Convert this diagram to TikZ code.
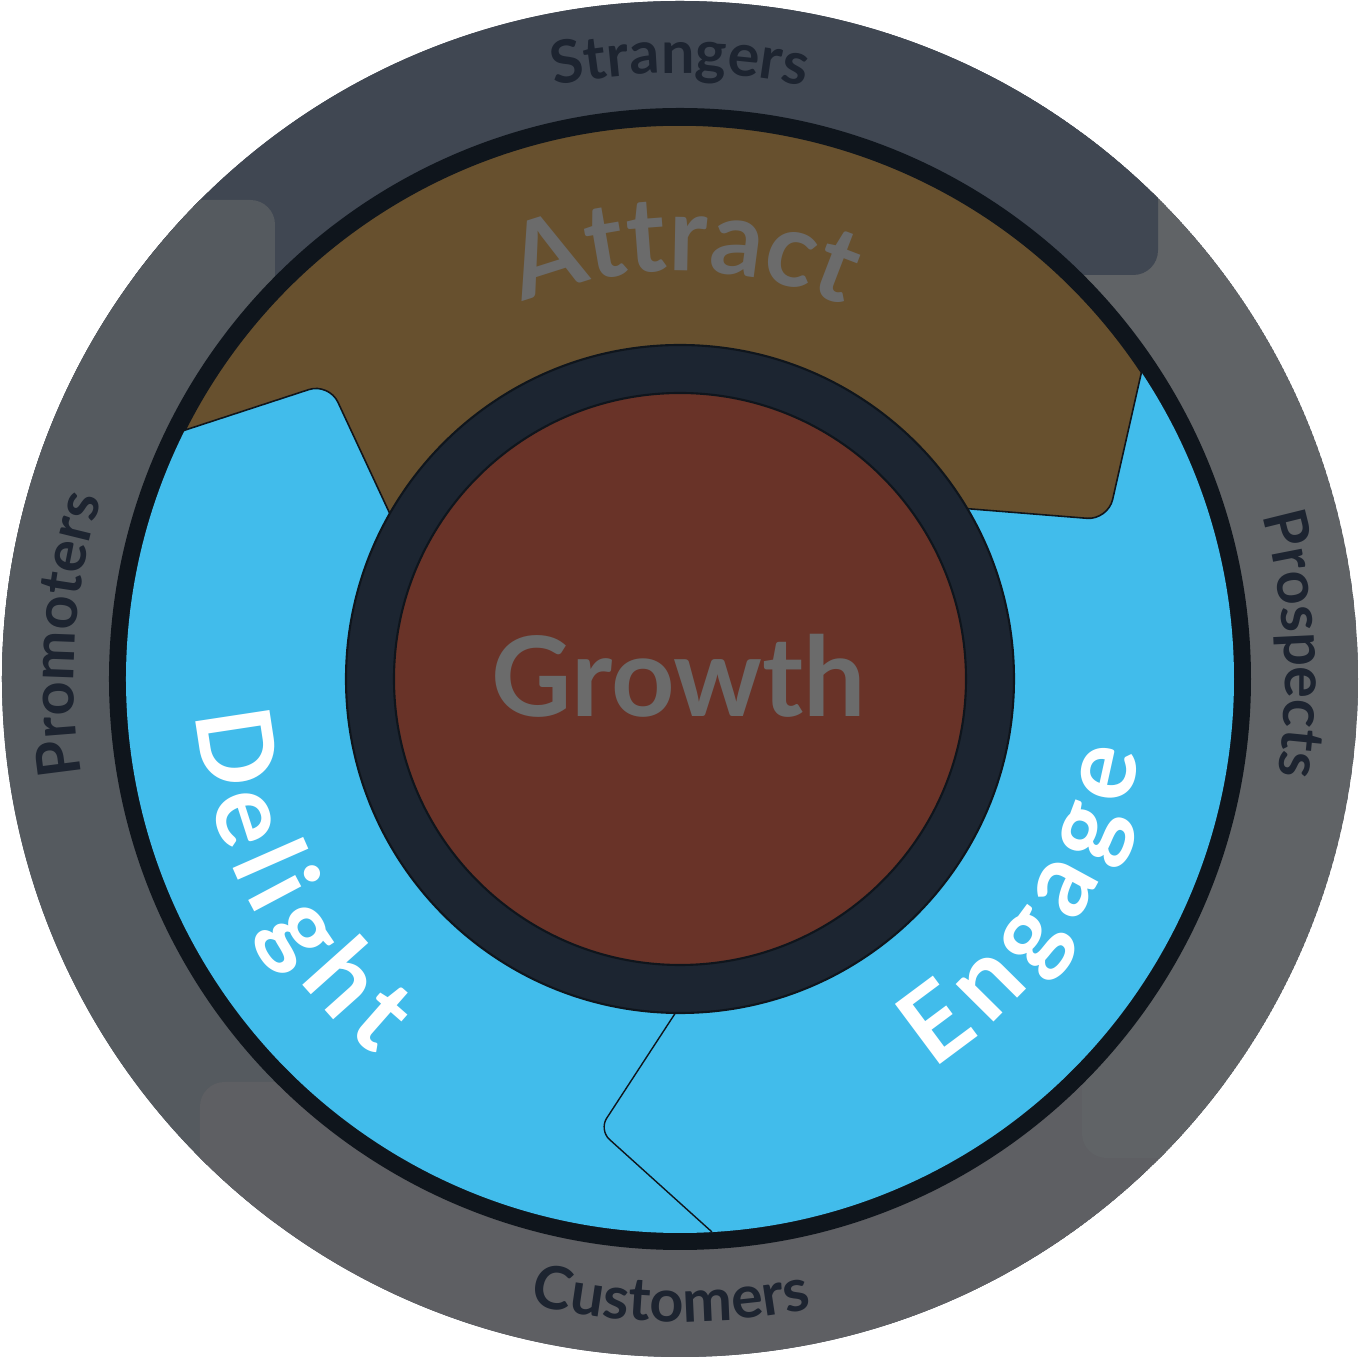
\documentclass[tikz,border=0pt]{standalone}
\usepackage{fontspec}
\setmainfont{Lato}
\usetikzlibrary{decorations.text}
\definecolor{bandtop}{HTML}{404752}
\definecolor{bandleft}{HTML}{555A5F}
\definecolor{bandright}{HTML}{606366}
\definecolor{bandbottom}{HTML}{5E5F63}
\definecolor{rimblack}{HTML}{0F151C}
\definecolor{stageblue}{HTML}{41BCEB}
\definecolor{attractbrown}{HTML}{67502E}
\definecolor{hubnavy}{HTML}{1C2531}
\definecolor{corebrown}{HTML}{693328}
\definecolor{labelgrey}{HTML}{6B6B6B}
\definecolor{labelnavy}{HTML}{1D2430}
\def\outerr{678}
\def\rimr{571}
\def\stager{554}
\def\hubr{334}
\def\corer{286}
\newcommand{\outerfont}{\color{labelnavy}\bfseries\fontsize{16.9}{20}\selectfont}
\newcommand{\stagefont}{\color{white}\bfseries\fontsize{29.5}{34}\selectfont}
\newcommand{\attractfont}{\color{labelgrey}\bfseries\fontsize{29.6}{34}\selectfont}
\newcommand{\ringband}[3]{
    \fill [#1, rounded corners=7pt] (#2) rectangle (#3);
}
\newcommand{\arclabel}[6][center]{
    \path [decorate, decoration={text along path, text align=#1, text={|#2|#6}}]
    (#4:#3) arc [start angle=#4, end angle=#5, radius=#3];
}
\begin{document}
\begin{tikzpicture}[x=0.01cm, y=0.01cm]
    \useasboundingbox (-680,-679) rectangle (680,679);
    % outer ring bands
    \begin{scope}
        \clip (0,0) circle [radius=\outerr];
        \fill [bandtop] (0,0) circle [radius=\outerr];
        \ringband{bandleft}{-800,-800}{-405,479}
        \ringband{bandbottom}{-480,-800}{800,-403}
        \ringband{bandright}{402,-479}{800,800}
        \ringband{bandtop}{-800,404}{478,800}
        \begin{scope}
            \clip (-800,0) rectangle (0,800);
            \ringband{bandleft}{-800,-800}{-405,479}
        \end{scope}
    \end{scope}
    \fill [rimblack] (0,0) circle [radius=\rimr];
    \fill [stageblue] (0,0) circle [radius=\stager];
    % attract stage
    \filldraw [fill=attractbrown, draw=rimblack, line width=0.45pt]
        (153.3:\stager) [rounded corners=6pt] -- (-351,296) [sharp corners] -- (-283,150)
        arc [start angle=152.1, end angle=32.4, radius=320]
        [rounded corners=6pt] -- (428,159) [sharp corners] -- (33.6:\stager)
        arc [start angle=33.6, end angle=153.3, radius=\stager] -- cycle;
    % delight / engage split
    \draw [rimblack, line width=0.4pt, rounded corners=4pt] (-2,-330) -- (-81,-451) -- (32,-553);
    % hub
    \filldraw [fill=hubnavy, draw=rimblack, line width=0.6pt] (0,0) circle [radius=\hubr];
    \filldraw [fill=corebrown, draw=rimblack, line width=0.6pt] (0,0) circle [radius=\corer];
    \node [font=\bfseries\fontsize{31.5}{36}\selectfont, text=labelgrey, anchor=base] (growth) at (-1,-38) {Growth};
    % labels
    \arclabel{\attractfont}{408}{135}{44}{Attract}
    \arclabel[fit to path]{\stagefont}{485}{184}{231}{Delight}
    \arclabel[fit to path]{\stagefont}{465}{303}{351}{Engage}
    \arclabel{\outerfont}{606}{120}{60}{Strangers}
    \arclabel{\outerfont}{605}{33.25}{-26.75}{Prospects}
    \arclabel[fit to path]{\outerfont}{643}{256.5}{281.7}{Customers}
    \arclabel{\outerfont}{606}{205.85}{145.85}{Promoters}
\end{tikzpicture}
\end{document}
